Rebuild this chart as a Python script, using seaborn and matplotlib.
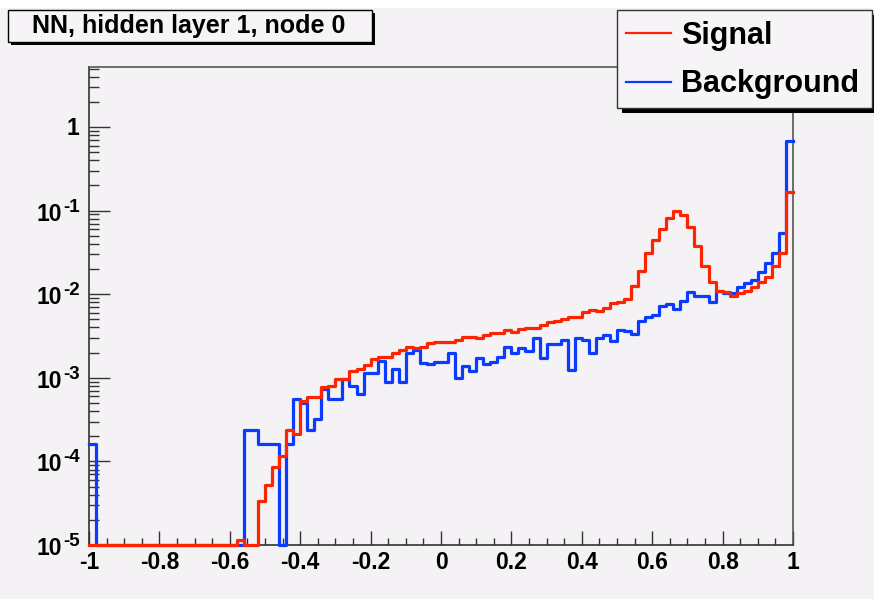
import numpy as np
import pandas as pd
import matplotlib
matplotlib.use("Agg")
import matplotlib.pyplot as plt
import matplotlib.transforms as mtransforms
import seaborn as sns
from matplotlib.ticker import FixedLocator, NullFormatter
from matplotlib.patches import Rectangle
from matplotlib.lines import Line2D

# ---------------- data ----------------
title = "NN, hidden layer 1, node 0"
series_names = ["Signal", "Background"]
n_bins = 100
x_range = (-1.0, 1.0)

signal = [
    0, 0, 0, 0, 0, 0, 0, 0, 0, 0,
    0, 0, 0, 0, 0, 0, 0, 0, 0, 0,
    0, 1.15e-5, 0, 0, 3.4e-5, 5.2e-5, 8.6e-5, 1.16e-4, 2.4e-4, 2.1e-4,
    5.3e-4, 5.85e-4, 5.9e-4, 7.7e-4, 8.0e-4, 9.75e-4, 9.6e-4, 1.2e-3, 1.26e-3, 1.42e-3,
    1.66e-3, 1.76e-3, 1.76e-3, 1.96e-3, 2.15e-3, 2.36e-3, 2.3e-3, 2.36e-3, 2.63e-3, 2.7e-3,
    2.7e-3, 2.7e-3, 2.83e-3, 3.05e-3, 3.05e-3, 2.97e-3, 3.25e-3, 3.47e-3, 3.4e-3, 3.73e-3,
    3.5e-3, 3.84e-3, 3.97e-3, 3.97e-3, 4.25e-3, 4.6e-3, 4.78e-3, 5.09e-3, 5.3e-3, 5.3e-3,
    6.2e-3, 6.5e-3, 6.3e-3, 6.8e-3, 7.8e-3, 8.0e-3, 8.8e-3, 1.25e-2, 1.9e-2, 3.1e-2,
    4.4e-2, 6.0e-2, 8.2e-2, 9.8e-2, 8.9e-2, 6.3e-2, 3.75e-2, 2.15e-2, 1.41e-2, 1.1e-2,
    1.06e-2, 9.6e-3, 1.04e-2, 1.1e-2, 1.23e-2, 1.41e-2, 1.62e-2, 2.15e-2, 3.1e-2, 0.167,
]

background = [
    1.6e-4, 0, 0, 0, 0, 0, 0, 0, 0, 0,
    0, 0, 0, 0, 0, 0, 0, 0, 0, 0,
    0, 0, 2.4e-4, 2.4e-4, 1.6e-4, 1.6e-4, 1.6e-4, 0, 1.6e-4, 5.6e-4,
    4.95e-4, 2.4e-4, 3.2e-4, 7.3e-4, 5.6e-4, 5.6e-4, 9.6e-4, 8.0e-4, 6.4e-4, 1.13e-3,
    1.13e-3, 1.59e-3, 9.0e-4, 1.29e-3, 9.0e-4, 2.0e-3, 2.15e-3, 1.52e-3, 1.45e-3, 1.55e-3,
    1.56e-3, 2.0e-3, 9.9e-4, 1.38e-3, 1.22e-3, 1.71e-3, 1.45e-3, 1.56e-3, 1.79e-3, 2.36e-3,
    2.0e-3, 2.25e-3, 2.1e-3, 3.0e-3, 1.71e-3, 2.54e-3, 2.54e-3, 2.83e-3, 1.24e-3, 3.0e-3,
    2.83e-3, 2.0e-3, 3.0e-3, 3.25e-3, 2.75e-3, 3.73e-3, 3.65e-3, 3.34e-3, 4.8e-3, 5.4e-3,
    5.6e-3, 7.3e-3, 7.6e-3, 6.6e-3, 8.3e-3, 1.05e-2, 9.5e-3, 9.5e-3, 8.0e-3, 1.1e-2,
    1.04e-2, 1.04e-2, 1.23e-2, 1.35e-2, 1.48e-2, 1.86e-2, 2.35e-2, 3.1e-2, 5.45e-2, 0.68,
]

x_ticks = [-1, -0.8, -0.6, -0.4, -0.2, 0, 0.2, 0.4, 0.6, 0.8, 1]
x_tick_labels = ["-1", "-0.8", "-0.6", "-0.4", "-0.2", "0", "0.2", "0.4", "0.6", "0.8", "1"]
y_ticks = [1e-5, 1e-4, 1e-3, 1e-2, 1e-1, 1]
y_tick_bases = ["10", "10", "10", "10", "10", "1"]
y_tick_exponents = ["-5", "-4", "-3", "-2", "-1", ""]

# ---------------- style ----------------
W, H = 874, 599
BG = "#f5f2f5"
RED = "#ff2400"
BLUE = "#0a3cff"
FONT = "Liberation Sans"
plt.rcParams["font.family"] = [FONT, "DejaVu Sans"]

YMIN, YMAX = 1e-5, 10 ** 0.718


def fx(px):
    return px / W


def fy(py):
    return 1 - py / H


fig = plt.figure(figsize=(W / 100, H / 100), dpi=100, facecolor=BG)
# white top strip
fig.patches.append(Rectangle((0, fy(8)), 1, 8 / H, transform=fig.transFigure,
                             facecolor="white", edgecolor="none", zorder=0))

ax = fig.add_axes([fx(89), fy(545), fx(793) - fx(89), fy(67) - fy(545)])
ax.set_facecolor(BG)

edges = np.linspace(x_range[0], x_range[1], n_bins + 1)
centers = 0.5 * (edges[:-1] + edges[1:])
sig = np.array(signal, dtype=float)
bkg = np.array(background, dtype=float)

df = pd.DataFrame({"x": centers,
                   "Background": np.where(bkg > 0, bkg, YMIN),
                   "Signal": np.where(sig > 0, sig, YMIN)})

for name, col in [("Background", BLUE), ("Signal", RED)]:
    sns.histplot(data=df, x="x", weights=name, bins=list(edges), element="step",
                 fill=False, color=col, linewidth=2.3, ax=ax, clip_on=False,
                 zorder=3)

ax.set_yscale("log")
ax.set_xlim(*x_range)
ax.set_ylim(YMIN, YMAX)
ax.set_xlabel("")
ax.set_ylabel("")

# ticks
ax.xaxis.set_major_locator(FixedLocator(x_ticks))
ax.set_xticklabels(x_tick_labels)
ax.xaxis.set_minor_locator(FixedLocator(np.arange(-1, 1.0001, 0.05)))
ax.yaxis.set_major_locator(FixedLocator(y_ticks))
ax.yaxis.set_major_formatter(NullFormatter())
minors = [m * 10.0 ** e for e in range(-5, 1) for m in range(2, 10)]
minors = [v for v in minors if v < YMAX]
ax.yaxis.set_minor_locator(FixedLocator(minors))
ax.yaxis.set_minor_formatter(NullFormatter())

ax.tick_params(axis="x", which="major", direction="in", length=10, width=1.0,
               color="#333333", labelsize=16.5, pad=4, top=False)
ax.tick_params(axis="x", which="minor", direction="in", length=5, width=1.0,
               color="#333333", top=False)
ax.tick_params(axis="y", which="major", direction="in", length=15, width=1.0,
               color="#333333", right=False)
ax.tick_params(axis="y", which="minor", direction="in", length=7.5, width=1.0,
               color="#333333", right=False)
for lab in ax.get_xticklabels():
    lab.set_fontweight("bold")

# y tick labels in ROOT style: "10" with a large superscript exponent
ytrans = mtransforms.blended_transform_factory(fig.transFigure, ax.transData)
for val, base, expo in zip(y_ticks, y_tick_bases, y_tick_exponents):
    if expo:
        tb = mtransforms.offset_copy(ytrans, fig=fig, x=0, y=-10, units="dots")
        ax.text(fx(62), val, base, transform=tb, ha="right", va="baseline",
                fontsize=16.5, fontweight="bold", clip_on=False)
        te = mtransforms.offset_copy(ytrans, fig=fig, x=0, y=-1, units="dots")
        ax.text(fx(63), val, expo, transform=te, ha="left", va="baseline",
                fontsize=13.5, fontweight="bold", clip_on=False)
    else:
        tb = mtransforms.offset_copy(ytrans, fig=fig, x=0, y=-8, units="dots")
        ax.text(fx(79), val, base, transform=tb, ha="right", va="baseline",
                fontsize=16.5, fontweight="bold", clip_on=False)

for s in ["left", "bottom"]:
    ax.spines[s].set_color("#333333")
    ax.spines[s].set_linewidth(1.2)
for s in ["top", "right"]:
    ax.spines[s].set_color("#555555")
    ax.spines[s].set_linewidth(1.2)

# title box with shadow
fig.patches.append(Rectangle((fx(11), fy(45)), fx(375) - fx(11), fy(13) - fy(45),
                             transform=fig.transFigure, facecolor="black",
                             edgecolor="none", zorder=5))
fig.patches.append(Rectangle((fx(8), fy(42)), fx(372) - fx(8), fy(10) - fy(42),
                             transform=fig.transFigure, facecolor="#f7f4f7",
                             edgecolor="black", linewidth=1.0, zorder=6))
fig.text(fx(189), fy(32.5), title, ha="center", va="baseline", fontsize=18,
         fontweight="bold", color="black", zorder=7)

# legend box with shadow
fig.patches.append(Rectangle((fx(622), fy(113)), fx(880) - fx(622), fy(15) - fy(113),
                             transform=fig.transFigure, facecolor="black",
                             edgecolor="none", zorder=5))
fig.patches.append(Rectangle((fx(617), fy(108)), fx(872) - fx(617), fy(10) - fy(108),
                             transform=fig.transFigure, facecolor="#f7f4f7",
                             edgecolor="#333333", linewidth=1.0, zorder=6))
for i, (name, col) in enumerate([("Signal", RED), ("Background", BLUE)]):
    yy = [33, 82][i]
    base = [44, 92][i]
    fig.lines.append(Line2D([fx(626), fx(671)], [fy(yy), fy(yy)],
                            transform=fig.transFigure, color=col, linewidth=1.6,
                            zorder=7))
    fig.text(fx(681), fy(base), name, ha="left", va="baseline", fontsize=22,
             fontweight="bold", color="black", zorder=7)

fig.savefig("out.png", dpi=100, facecolor=BG)
